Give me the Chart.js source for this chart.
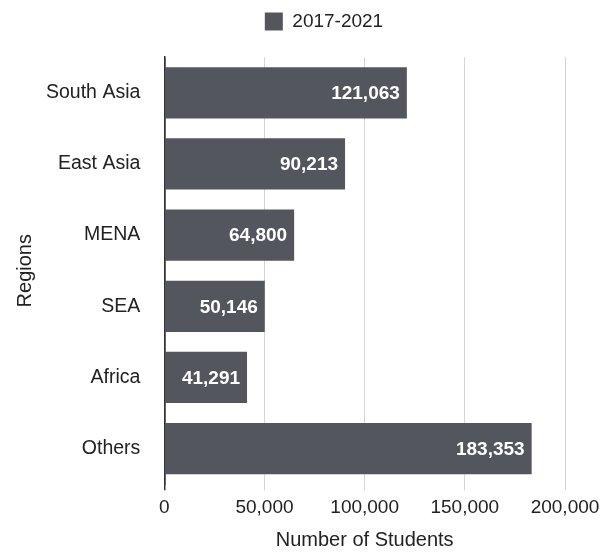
<!DOCTYPE html>
<html>
<head>
<meta charset="utf-8">
<script src="https://cdn.jsdelivr.net/npm/chart.js@4/dist/chart.umd.min.js"></script>
<style>
html,body{margin:0;padding:0;background:#fff;}
#wrap{width:612px;height:552px;}
</style>
</head>
<body>
<div id="wrap"><canvas id="c" width="612" height="552"></canvas></div>
<script>
const categories = ["South Asia", "East Asia", "MENA", "SEA", "Africa", "Others"];
const seriesLabel = "2017-2021";
const students = [121063, 90213, 64800, 50146, 41291, 183353];
const xTicks = [0, 50000, 100000, 150000, 200000];

const barColor = "#53565c";
const fontFamily = "'Liberation Sans', Arial, Helvetica, sans-serif";

const valueLabels = {
  id: "valueLabels",
  afterDatasetsDraw(chart) {
    const ctx = chart.ctx;
    const meta = chart.getDatasetMeta(0);
    ctx.save();
    ctx.fillStyle = "#ffffff";
    ctx.font = "bold 19px " + fontFamily;
    ctx.textAlign = "right";
    ctx.textBaseline = "middle";
    meta.data.forEach((bar, i) => {
      ctx.fillText(students[i].toLocaleString("en-US"), bar.x - 7, bar.y + 1);
    });
    ctx.restore();
  }
};

const shiftLegend = {
  id: "shiftLegend",
  afterLayout(chart) {
    const lg = chart.legend;
    if (lg) { lg.left += 39; lg.right += 39; }
  }
};

new Chart(document.getElementById("c"), {
  type: "bar",
  data: {
    labels: categories,
    datasets: [{
      label: seriesLabel,
      data: students,
      backgroundColor: barColor,
      borderWidth: 0,
      categoryPercentage: 0.72,
      barPercentage: 1.0
    }]
  },
  plugins: [valueLabels, shiftLegend],
  options: {
    indexAxis: "y",
    responsive: false,
    animation: false,
    devicePixelRatio: 1,
    layout: { padding: { left: 5, right: 47, top: 0, bottom: 0 } },
    plugins: {
      legend: {
        display: true,
        position: "top",
        weight: 1000,
        labels: {
          boxWidth: 18,
          boxHeight: 18,
          padding: 12,
          color: "#222",
          font: { family: fontFamily, size: 19 }
        }
      },
      title: {
        display: true,
        text: "",
        weight: 500,
        font: { size: 1 },
        padding: { top: 8, bottom: 7 }
      },
      tooltip: { enabled: false }
    },
    scales: {
      x: {
        min: 0,
        max: 200000,
        afterBuildTicks(scale) { scale.ticks = xTicks.map(v => ({ value: v })); },
        ticks: {
          color: "#222",
          font: { family: fontFamily, size: 19 },
          padding: 6,
          maxRotation: 0,
          callback: (v) => Number(v).toLocaleString("en-US")
        },
        grid: {
          color: (c) => (c.tick && c.tick.value === 0) ? "#333" : "#d4d4d4",
          lineWidth: (c) => (c.tick && c.tick.value === 0) ? 1.5 : 1,
          tickLength: 6
        },
        border: { display: false },
        title: {
          display: true,
          text: "Number of Students",
          color: "#222",
          font: { family: fontFamily, size: 20 },
          padding: { top: 3, bottom: 0 }
        }
      },
      y: {
        ticks: {
          color: "#222",
          font: { family: fontFamily, size: 19.5 },
          padding: 2
        },
        grid: { display: false, drawTicks: true, tickLength: 22 },
        border: { display: true, color: "#333", width: 1.5 },
        title: {
          display: true,
          text: "Regions",
          color: "#222",
          font: { family: fontFamily, size: 20 },
          padding: { top: 8, bottom: 7 }
        }
      }
    }
  }
});
</script>
</body>
</html>
